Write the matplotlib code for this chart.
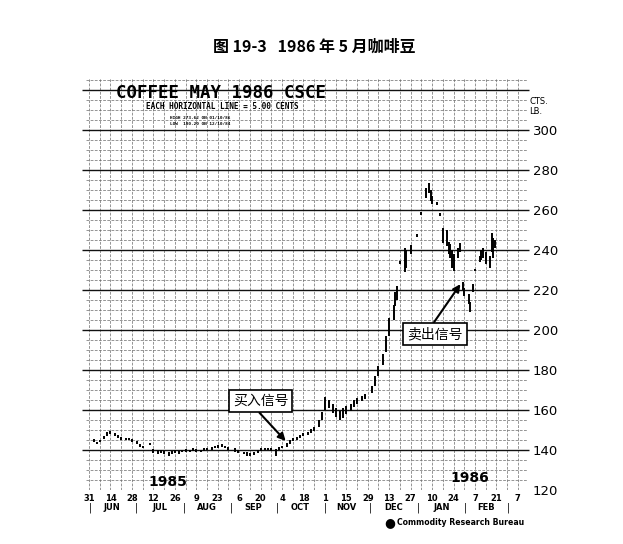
import matplotlib
matplotlib.use("Agg")
import matplotlib.pyplot as plt
import pandas as pd

# ---- data (cents per lb) ----
bar_dates = [
    "1985-06-03", "1985-06-05", "1985-06-07", "1985-06-10", "1985-06-12", "1985-06-14",
    "1985-06-17", "1985-06-19", "1985-06-21", "1985-06-24", "1985-06-26", "1985-06-28",
    "1985-07-01", "1985-07-03", "1985-07-05", "1985-07-10", "1985-07-12", "1985-07-15",
    "1985-07-17", "1985-07-19", "1985-07-22", "1985-07-24", "1985-07-26", "1985-07-29",
    "1985-07-31", "1985-08-02", "1985-08-05", "1985-08-07", "1985-08-09", "1985-08-12",
    "1985-08-14", "1985-08-16", "1985-08-19", "1985-08-21", "1985-08-23", "1985-08-26",
    "1985-08-28", "1985-08-30", "1985-09-03", "1985-09-05", "1985-09-09", "1985-09-11",
    "1985-09-13", "1985-09-16", "1985-09-18", "1985-09-20", "1985-09-23", "1985-09-25",
    "1985-09-27", "1985-09-30", "1985-10-02", "1985-10-04", "1985-10-07", "1985-10-09",
    "1985-10-11", "1985-10-14", "1985-10-16", "1985-10-18", "1985-10-21", "1985-10-23",
    "1985-10-25", "1985-10-28", "1985-10-30", "1985-11-01", "1985-11-04", "1985-11-06",
    "1985-11-08", "1985-11-11", "1985-11-13", "1985-11-15", "1985-11-18", "1985-11-20",
    "1985-11-22", "1985-11-25", "1985-11-27", "1985-12-02", "1985-12-04", "1985-12-06",
    "1985-12-09", "1985-12-11", "1985-12-13", "1985-12-16", "1985-12-17", "1985-12-18",
    "1985-12-20", "1985-12-23", "1985-12-24", "1985-12-27", "1985-12-31", "1986-01-03",
    "1986-01-06", "1986-01-08", "1986-01-09", "1986-01-10", "1986-01-13", "1986-01-15",
    "1986-01-17", "1986-01-20", "1986-01-21", "1986-01-22", "1986-01-23", "1986-01-24",
    "1986-01-27", "1986-01-28", "1986-01-30", "1986-01-31", "1986-02-03", "1986-02-04",
    "1986-02-06", "1986-02-07", "1986-02-10", "1986-02-11", "1986-02-12", "1986-02-14",
    "1986-02-17", "1986-02-18", "1986-02-19", "1986-02-20",
]
highs = [
    145.5, 144.0, 145.2, 147.0, 148.8, 149.5,
    148.5, 147.5, 146.5, 146.2, 146.0, 145.5,
    144.5, 143.0, 142.2, 143.5, 140.5, 139.8,
    140.0, 139.5, 139.0, 139.5, 140.0, 139.5,
    140.2, 140.5, 140.0, 140.8, 140.5, 140.0,
    141.0, 141.2, 141.5, 142.0, 142.5, 143.0,
    142.2, 141.5, 140.8, 140.0, 139.2, 138.8,
    138.5, 139.0, 140.0, 141.0, 141.2, 141.0,
    140.8, 140.5, 141.5, 142.0, 143.5, 145.0,
    146.0, 146.5, 147.5, 148.5, 149.0, 150.5,
    151.5, 155.0, 159.0, 166.5, 165.0, 163.0,
    161.0, 159.5, 161.0, 162.0, 163.0, 165.0,
    166.0, 167.0, 168.0, 172.0, 177.0, 182.0,
    188.0, 197.0, 206.0, 212.5, 219.0, 222.0,
    234.5, 241.0, 240.0, 242.5, 248.0, 259.0,
    271.0, 273.6, 270.0, 267.0, 264.0, 258.5,
    251.0, 250.0, 244.0, 243.0, 240.0, 238.0,
    241.0, 243.5, 224.0, 221.0, 218.0, 214.0,
    223.0, 230.5, 237.0, 240.0, 241.0, 239.0,
    237.0, 248.5, 246.0, 245.0,
]
lows = [
    144.0, 142.8, 143.8, 145.5, 147.2, 148.0,
    147.0, 146.0, 145.0, 145.0, 144.8, 144.2,
    143.0, 141.5, 140.8, 142.5, 138.5, 138.2,
    138.5, 137.8, 137.2, 138.0, 138.5, 138.2,
    138.8, 139.0, 138.8, 139.5, 139.2, 138.8,
    139.5, 140.0, 140.2, 140.8, 141.2, 141.5,
    140.8, 140.0, 139.2, 138.5, 137.8, 137.2,
    137.0, 137.5, 138.5, 139.5, 140.0, 139.8,
    139.5, 137.0, 140.0, 140.8, 141.5, 143.0,
    144.5, 145.0, 146.0, 147.0, 147.5, 148.5,
    149.5, 151.5, 155.0, 160.0, 161.0, 158.5,
    156.5, 155.0, 156.0, 158.0, 159.5, 161.5,
    163.0, 164.5, 165.5, 168.5, 172.0, 177.0,
    182.5, 189.0, 197.0, 205.0, 212.0, 215.0,
    233.0, 229.0, 231.0, 238.0, 246.5, 257.5,
    266.0, 268.5, 264.5, 263.0, 262.5, 257.0,
    243.5, 242.0, 238.0, 236.0, 231.0, 229.5,
    236.0, 239.0, 220.0, 217.0, 213.0, 209.0,
    219.0, 229.5, 234.0, 235.0, 236.0, 233.0,
    231.0, 239.0, 236.0, 241.0,
]

tick_dates = pd.date_range("1985-05-31", "1986-03-07", freq="2W-FRI")
tick_labels = [str(d.day) for d in tick_dates]
month_names = ["JUN", "JUL", "AUG", "SEP", "OCT", "NOV", "DEC", "JAN", "FEB"]
month_mid = pd.to_datetime(["1985-06-15", "1985-07-16", "1985-08-16", "1985-09-15",
                            "1985-10-16", "1985-11-15", "1985-12-16", "1986-01-16",
                            "1986-02-14"])
month_starts = pd.to_datetime(["1985-06-01", "1985-07-01", "1985-08-01", "1985-09-01",
                               "1985-10-01", "1985-11-01", "1985-12-01", "1986-01-01",
                               "1986-02-01", "1986-03-01"])
price_ticks = list(range(120, 301, 20))

cjk = ["Noto Sans CJK SC", "DejaVu Sans"]

fig = plt.figure(figsize=(6.23, 5.44), dpi=100)
ax = fig.add_axes([0.138, 0.0993, 0.708, 0.7573])

x0 = pd.Timestamp("1985-05-29")
x1 = pd.Timestamp("1986-03-13")
ax.set_xlim(x0, x1)
ax.set_ylim(120, 326)
for s in ax.spines.values():
    s.set_visible(False)

# grid: weekly verticals, 5-cent horizontals, heavy 20-cent lines
grid_kw = dict(color="#6a6a6a", lw=0.5, ls=(0, (4, 2)), zorder=1)
for d in pd.date_range("1985-05-31", "1986-03-13", freq="W-FRI"):
    ax.axvline(d, **grid_kw)
for v in range(120, 327, 5):
    if v % 20 or v == 120:
        ax.axhline(v, **grid_kw)
ax.hlines([v for v in range(140, 327, 20)], -0.01, 1.005, transform=ax.get_yaxis_transform(),
          color="#111111", lw=1.0, clip_on=False, zorder=2)

# price bars
ax.vlines(pd.to_datetime(bar_dates), lows, highs, color="black", lw=1.4, zorder=3)

# axes ticks
ax.set_xticks(tick_dates)
ax.set_xticklabels(tick_labels, fontsize=6, fontweight="bold")
ax.tick_params(axis="x", length=0, pad=3)
ax.yaxis.tick_right()
ax.set_yticks(price_ticks)
ax.set_yticklabels([str(v) for v in price_ticks], fontsize=9.5)
ax.tick_params(axis="y", length=0, pad=4)

xt = ax.get_xaxis_transform()
for d, name in zip(month_mid, month_names):
    ax.text(d, -0.043, name, transform=xt, ha="center", va="center",
            fontsize=6, fontweight="bold")
for d in month_starts:
    ax.text(d, -0.043, "|", transform=xt, ha="center", va="center", fontsize=7)

# chart header
ax.text(0.306, 0.951, "COFFEE MAY 1986 CSCE", transform=ax.transAxes, ha="center",
        va="baseline", family="DejaVu Sans Mono", fontsize=12.5, fontweight="bold", zorder=4)
ax.text(0.308, 0.931, "EACH HORIZONTAL LINE = 5.00 CENTS", transform=ax.transAxes,
        ha="center", va="center", family="DejaVu Sans Mono", fontsize=5.6,
        fontweight="bold", zorder=4)
ax.text(0.19, 0.903, "HIGH 273.62 ON 01/10/86", transform=ax.transAxes, ha="left",
        va="center", family="DejaVu Sans Mono", fontsize=3.2, fontweight="bold", zorder=4)
ax.text(0.19, 0.889, "LOW  180.20 ON 12/10/84", transform=ax.transAxes, ha="left",
        va="center", family="DejaVu Sans Mono", fontsize=3.2, fontweight="bold", zorder=4)
ax.text(1.005, 0.93, "CTS.\nLB.", transform=ax.transAxes, ha="left", va="center",
        fontsize=6, linespacing=1.1)
ax.text(0.186, 0.02, "1985", transform=ax.transAxes, ha="center", va="center",
        fontsize=10, fontweight="bold", zorder=4)
ax.text(0.87, 0.03, "1986", transform=ax.transAxes, ha="center", va="center",
        fontsize=10, fontweight="bold", zorder=4)

# signals
box = dict(boxstyle="square,pad=0.3", fc="white", ec="black", lw=1.2)
arrow = dict(arrowstyle="-|>", color="black", lw=1.5, mutation_scale=11,
             shrinkA=0, shrinkB=1)
ax.annotate("买入信号", xy=(pd.Timestamp("1985-10-07"), 144.0),
            xytext=(pd.Timestamp("1985-09-20"), 164.5), family=cjk, fontsize=10,
            ha="center", va="center", bbox=box,
            arrowprops=dict(arrow, relpos=(0.4, 0.0)), zorder=5)
ax.annotate("卖出信号", xy=(pd.Timestamp("1986-01-29"), 223.5),
            xytext=(pd.Timestamp("1986-01-12"), 198.0), family=cjk, fontsize=10,
            ha="center", va="center", bbox=box,
            arrowprops=dict(arrow, relpos=(0.42, 1.0)), zorder=5)

# title and credit
fig.text(0.504, 1 - 47 / 544, "图 19-3   1986 年 5 月咖啡豆", ha="center", va="center",
         family=cjk, fontsize=11.5, fontweight="bold")
fig.text(0.626, 0.040, "●", ha="center", va="center", fontsize=9)
fig.text(0.637, 0.040, "Commodity Research Bureau", ha="left", va="center",
         fontsize=5.6, fontweight="bold")

fig.savefig("out.png", dpi=100)
